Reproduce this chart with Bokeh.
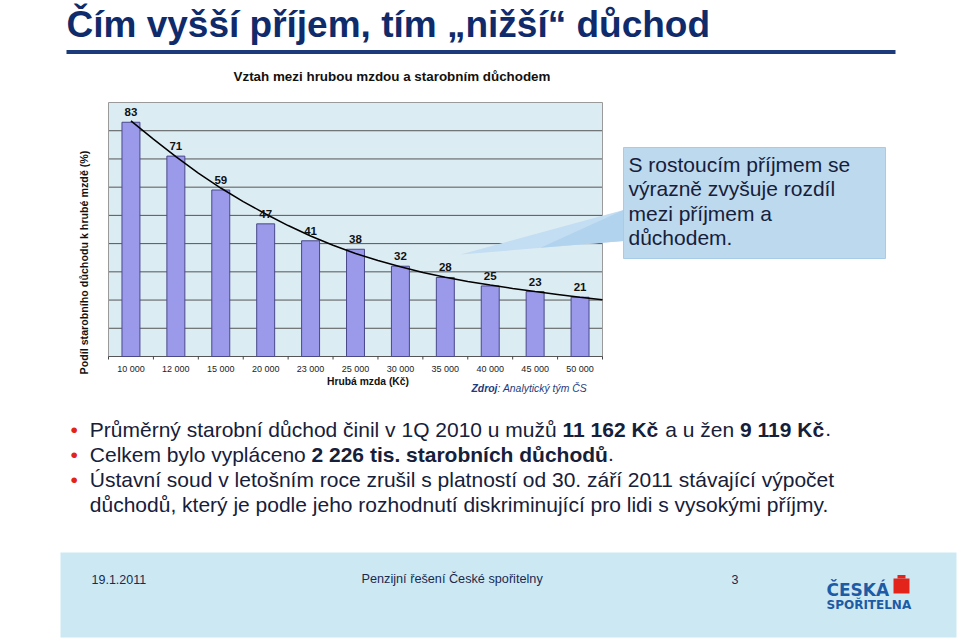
import math
from bokeh.plotting import figure
from bokeh.models import Range1d, Label
from bokeh.embed import file_html
from bokeh.resources import INLINE

# ---------------- data ----------------
wages = ["10 000", "12 000", "15 000", "20 000", "23 000", "25 000",
         "30 000", "35 000", "40 000", "45 000", "50 000"]
pension_ratio = [83, 71, 59, 47, 41, 38, 32, 28, 25, 23, 21]
# trend curve (category position, value)
trend_pos = [1, 1.5, 2, 2.5, 3, 3.5, 4, 4.5, 5, 5.5, 6, 6.5, 7, 7.5, 8, 8.5,
             9, 9.5, 10, 10.5, 11, 11.5]
trend_val = [83.5, 77.0, 70.8, 65.0, 59.7, 54.9, 50.5, 46.4, 42.7, 39.4, 36.5,
             34.0, 31.8, 29.8, 28.1, 26.6, 25.3, 24.1, 23.0, 22.0, 21.0, 20.1]
grid_values = [10, 20, 30, 40, 50, 60, 70, 80]
Y_MAX = 90

# ---------------- layout ----------------
W, H = 960, 640
FL, FR, FT, FB = 108, 602, 102, 356       # chart plot area on the slide (px)
FONT = "Liberation Sans"
BL = 0.35                                 # baseline correction (fraction of font size)

n = len(wages)
xpos = list(range(1, n + 1))
x_lo, x_hi = 0.5, n + 0.5
kx = (x_hi - x_lo) / (FR - FL)            # chart x units per pixel
ky = Y_MAX / (FB - FT)                    # chart y units per pixel

p = figure(width=W, height=H, x_range=Range1d(0, W), y_range=Range1d(H, 0),
           output_backend="svg", toolbar_location=None, title=None,
           x_axis_location=None, y_axis_location=None, min_border=0)
p.extra_x_ranges = {"cx": Range1d(x_lo - FL * kx, x_hi + (W - FR) * kx)}
p.extra_y_ranges = {"cy": Range1d(-(H - FB) * ky, Y_MAX + FT * ky)}
p.xgrid.visible = False
p.ygrid.visible = False
p.outline_line_color = None
p.background_fill_color = "white"
p.border_fill_color = "white"

C = dict(x_range_name="cx", y_range_name="cy")

# ---- chart ----
p.quad(left=[x_lo], right=[x_hi], bottom=[0], top=[Y_MAX],
       fill_color="#dcecf3", line_color=None, **C)
p.segment(x0=[x_lo] * len(grid_values), x1=[x_hi] * len(grid_values),
          y0=grid_values, y1=grid_values, line_color="#555555", line_width=1, **C)
p.quad(left=[x_lo], right=[x_hi], bottom=[0], top=[Y_MAX],
       fill_color=None, line_color="#9a9a9a", line_width=1, **C)
# x axis line + boundary ticks
bounds = [x - 0.5 for x in xpos] + [x_hi]
p.segment(x0=[x_lo], x1=[x_hi], y0=[0], y1=[0], line_color="#555555", line_width=1, **C)
p.segment(x0=bounds, x1=bounds, y0=[0] * len(bounds), y1=[-3 * ky] * len(bounds),
          line_color="#444444", line_width=1, **C)
p.text(x=xpos, y=[-12 * ky] * n, text=wages, text_align="center",
       text_baseline="middle", text_font={"value": FONT}, text_font_size="9px",
       text_color="#222222", **C)

p.vbar(x=xpos, top=pension_ratio, width=0.4, bottom=0, fill_color="#9b99ea",
       line_color="#48488a", line_width=1, **C)
p.line(trend_pos, trend_val, line_color="black", line_width=1.5, **C)
p.text(x=xpos, y=[v + (6 + BL * 11.5) * ky for v in pension_ratio],
       text=[str(v) for v in pension_ratio], text_align="center",
       text_baseline="alphabetic", text_font={"value": FONT},
       text_font_style="bold", text_font_size="11.5px", text_color="#111111", **C)

# ---- slide decorations (slide pixel coordinates) ----
NAVY = "#0f2b6b"
TEXT = "#16203a"
RED = "#e2231a"


def lab(x, y, text, size, color, style="normal", font=FONT, align="left",
        baseline="alphabetic", angle=0.0):
    if baseline == "alphabetic":
        y = y - BL * size
    p.add_layout(Label(x=x, y=y, text=text, text_font=font,
                       text_font_size=f"{size}px", text_color=color,
                       text_font_style=style, text_align=align,
                       text_baseline=baseline, angle=angle))


def rect(l, t, r, b, fill, line=None, lw=1):
    p.quad(left=[l], right=[r], top=[t], bottom=[b], fill_color=fill,
           line_color=line, line_width=lw)


# callout pointer (lighter toward the tip) and box
p.patch([623, 623, 460], [209.6, 240.6, 254], fill_color="#c3ddf2", line_color=None)
p.patch([623, 623, 540], [209.6, 240.6, 247.3], fill_color="#b2d3ee", line_color=None)
rect(623, 147, 885, 258, "#bdd9ee", "#a8cbe8")

# title rule
rect(66, 49.5, 895, 53.5, "#1d3a7a")
# footer band
rect(60, 552, 956, 637, "#cce9f3")
# logo icon
rect(893, 578, 909, 593, "#e3241b")
rect(897, 574.5, 905, 578, "#e3241b")

lab(66, 37, "Čím vyšší příjem, tím „nižší“ důchod", 37, NAVY, "bold")

lab(391.5, 81, "Vztah mezi hrubou mzdou a starobním důchodem", 13.4, "#111111",
    "bold", align="center")
lab(83, 262, "Podíl starobního důchodu k hrubé mzdě (%)", 10.7, "#111111", "bold",
    align="center", baseline="middle", angle=math.pi / 2)
lab(367.5, 384.5, "Hrubá mzda (Kč)", 10.3, "#111111", "bold", align="center")
lab(471, 392, "Zdroj", 10.4, "#1f3b7c", "bold italic")
lab(497, 392, ": Analytický tým ČS", 10.4, "#1f3b7c", "italic")

for i, t in enumerate(["S rostoucím příjmem se", "výrazně zvyšuje rozdíl",
                       "mezi příjmem a", "důchodem."]):
    lab(628, 171 + 24.5 * i, t, 21, TEXT)

for yb in [436, 461, 486]:
    lab(70, yb, "•", 21, RED)
lab(89.3, 436, "Průměrný starobní důchod činil v 1Q 2010 u mužů", 21, TEXT)
lab(562.0, 436, "11 162 Kč", 21, TEXT, "bold")
lab(664.7, 436, "a u žen", 21, TEXT)
lab(739.5, 436, "9 119 Kč", 21, TEXT, "bold")
lab(824.7, 436, ".", 21, TEXT)
lab(89.3, 461, "Celkem bylo vypláceno", 21, TEXT)
lab(311.0, 461, "2 226 tis. starobních důchodů", 21, TEXT, "bold")
lab(607.4, 461, ".", 21, TEXT)
lab(89.3, 486, "Ústavní soud v letošním roce zrušil s platností od 30. září 2011 stávající výpočet", 21, TEXT)
lab(89.3, 511, "důchodů, který je podle jeho rozhodnutí diskriminující pro lidi s vysokými příjmy.", 21, TEXT)

lab(91, 583, "19.1.2011", 12.5, "#1a2a50")
lab(361, 583, "Penzijní řešení České spořitelny", 12.7, "#1a2a50")
lab(731, 583, "3", 12.5, "#1a2a50")

LOGO = "#1d5ba5"
lab(826, 595, "ČESKÁ", 17, LOGO, "bold", font="DejaVu Sans")
lab(826, 608.5, "SPOŘITELNA", 12, LOGO, "bold", font="DejaVu Sans")

open("out.html", "w").write(file_html(p, INLINE))
